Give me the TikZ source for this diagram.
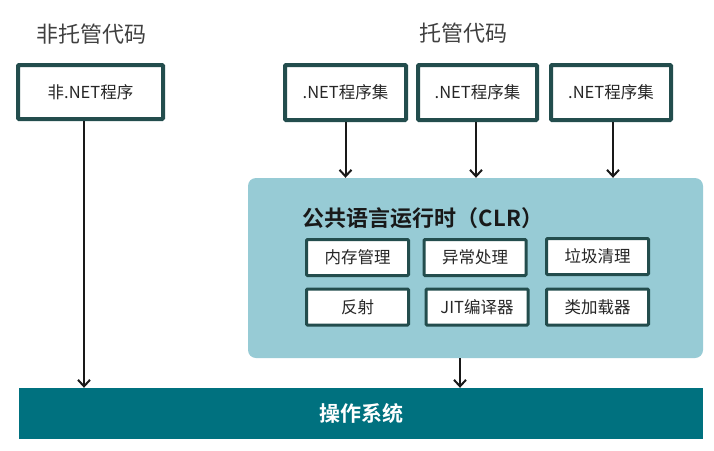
\documentclass[tikz,border=0pt]{standalone}
\usepackage{fontspec}
\setmainfont{Noto Sans CJK SC}[BoldFont={Noto Sans CJK SC Bold}]
\usetikzlibrary{arrows.meta}
\definecolor{boxborder}{HTML}{234D4D}
\definecolor{clrfill}{HTML}{97CBD5}
\definecolor{osfill}{HTML}{00717F}
\definecolor{headtext}{HTML}{404040}
\tikzset{
  progbox/.style={draw=boxborder, line width=4pt, fill=white, rounded corners=1pt,
    inner sep=0pt, font=\fontsize{16.5}{18}\selectfont, text=black!85},
  innerbox/.style={draw=boxborder, line width=3pt, fill=white, rounded corners=1pt,
    minimum width=102pt, minimum height=36pt, inner sep=0pt,
    font=\fontsize{16.5}{18}\selectfont, text=black!85},
  headlabel/.style={font=\fontsize{22}{24}\selectfont, text=headtext},
  arr/.style={-{Straight Barb[length=6.5pt,width=12pt,line width=2pt]}, line width=2pt, black!90},
}
\begin{document}
\begin{tikzpicture}[x=1pt,y=-1pt]
\useasboundingbox (0,0) rectangle (714,450);
% headings
\node[headlabel] (hu) at (91,34) {非托管代码};
\node[headlabel] (hm) at (463,33) {托管代码};
% program boxes
\node[progbox, minimum width=145pt, minimum height=54pt] (n0) at (90.5,92) {非.NET程序};
\node[progbox, minimum width=121pt, minimum height=55pt] (a1) at (345.5,92.5) {.NET程序集};
\node[progbox, minimum width=119pt, minimum height=55pt] (a2) at (477.5,92.5) {.NET程序集};
\node[progbox, minimum width=120pt, minimum height=55pt] (a3) at (611,92.5) {.NET程序集};
% CLR
\node[fill=clrfill, rounded corners=8pt, minimum width=455pt, minimum height=180pt, inner sep=0pt] (clr) at (475.5,268) {};
\node[font=\bfseries\fontsize{22}{24}\selectfont, text=black!90] (clrt) at (423,218) {公共语言运行时（CLR）};
\node[innerbox] (m1) at (357.5,257.5) {内存管理};
\node[innerbox] (m2) at (475,257.5) {异常处理};
\node[innerbox] (m3) at (597.5,256.5) {垃圾清理};
\node[innerbox] (m4) at (357.5,307) {反射};
\node[innerbox] (m5) at (477,307) {JIT编译器};
\node[innerbox] (m6) at (597.5,307) {类加载器};
% OS bar
\node[fill=osfill, minimum width=684pt, minimum height=51pt, inner sep=0pt,
  font=\bfseries\fontsize{21}{23}\selectfont, text=white] (os) at (361,413.5) {操作系统};
% arrows
\draw[arr] (a1.south) -- (a1.south |- clr.north);
\draw[arr] ([xshift=-1.5pt]a2.south) -- ([xshift=-1.5pt]a2.south |- clr.north);
\draw[arr] ([xshift=2pt]a3.south) -- ([xshift=2pt]a3.south |- clr.north);
\draw[arr] ([xshift=-6.5pt]n0.south) -- ([xshift=-6.5pt]n0.south |- os.north);
\draw[arr] ([xshift=-15.5pt]clr.south) -- ([xshift=-15.5pt]clr.south |- os.north);
\end{tikzpicture}
\end{document}
